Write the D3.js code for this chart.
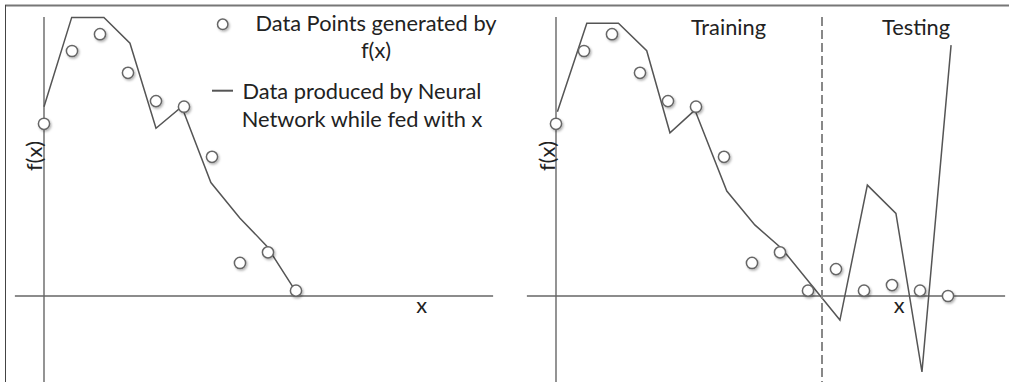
<!DOCTYPE html>
<html>
<head>
<meta charset="utf-8">
<script src="https://cdn.jsdelivr.net/npm/d3@7"></script>
<style>
  body { margin: 0; background: #fff; }
  svg { display: block; }
  text { font-family: Lato, "Open Sans", sans-serif; fill: #222; }
</style>
</head>
<body>
<div id="chart"></div>
<script>
// =====================================================================
// Data (x = sample index, y = f(x) in arbitrary units, 0 = x axis)
// =====================================================================
const pointX = [0, 1, 2, 3, 4, 5, 6, 7, 8, 9, 10, 11, 12, 13, 14];
const pointY = [0.615, 0.875, 0.935, 0.797, 0.696, 0.676, 0.497, 0.118, 0.156, 0.019,
                0.096, 0.019, 0.039, 0.019, 0.0];

// network output, left panel (training points only)
const fitLeftX = [0, 0.99, 2.14, 3.07, 4.0, 4.92, 5.96, 7.0, 7.95, 9.03];
const fitLeftY = [0.676, 0.995, 0.995, 0.903, 0.599, 0.676, 0.405, 0.278, 0.179, 0.010];

// network output, right panel (training + testing)
const fitRightX = [0.05, 1.1, 2.23, 3.24, 4.07, 4.96, 6.1, 7.1, 8.06, 10.14, 11.12, 12.14, 13.07, 14.11];
const fitRightY = [0.658, 0.974, 0.974, 0.876, 0.583, 0.664, 0.375, 0.254, 0.170,
                   -0.086, 0.396, 0.295, -0.271, 0.896];

const trainCount = 10;     // left panel shows the first 10 points
const splitAt = 9.5;       // training / testing boundary

const legendPointLines = ["Data Points generated by", "f(x)"];
const legendLineLines = ["Data produced by Neural", "Network while fed with x"];
const regionLabels = [{ text: "Training", at: 6.16 }, { text: "Testing", at: 12.86 }];

// =====================================================================
const width = 1009;
const height = 382;
const fontSize = "21.8px";

const x = d3.scaleLinear().domain([0, 14]).range([44, 44 + 28 * 14]);
const y = d3.scaleLinear().domain([0, 1]).range([296, 16]);

const svg = d3.select("#chart")
  .append("svg")
  .attr("width", width)
  .attr("height", height);

// soft shadow under the circles
svg.append("defs")
  .append("filter")
  .attr("id", "shadow")
  .attr("x", "-50%").attr("y", "-50%")
  .attr("width", "200%").attr("height", "200%")
  .append("feDropShadow")
  .attr("dx", 1.2).attr("dy", 1.5)
  .attr("stdDeviation", 1)
  .attr("flood-color", "#000")
  .attr("flood-opacity", 0.3);

// --- Frame ---
svg.append("line")
  .attr("x1", 5).attr("x2", width).attr("y1", 5.5).attr("y2", 5.5)
  .attr("stroke", "#777").attr("stroke-width", 2);
svg.append("line")
  .attr("x1", 5.5).attr("x2", 5.5).attr("y1", 5).attr("y2", height)
  .attr("stroke", "#444").attr("stroke-width", 1);

const line = d3.line().x(d => x(d[0])).y(d => y(d[1]));

function drawPanel(g, opts) {
  // axes
  g.append("line")
    .attr("x1", x(0)).attr("x2", x(0))
    .attr("y1", y(0.996)).attr("y2", height)
    .attr("stroke", "#888").attr("stroke-width", 1.8);
  g.append("line")
    .attr("x1", x(-1.04)).attr("x2", x(16.04))
    .attr("y1", y(0)).attr("y2", y(0))
    .attr("stroke", "#666").attr("stroke-width", 1.4);

  g.append("text")
    .attr("transform", `translate(${opts.yLabelX},156) rotate(-90)`)
    .attr("text-anchor", "middle")
    .attr("dy", "0.35em")
    .style("font-size", fontSize)
    .text("f(x)");

  g.append("text")
    .attr("x", x(opts.xLabelAt)).attr("y", 313)
    .attr("text-anchor", "middle")
    .style("font-size", fontSize)
    .text("x");

  // network output
  g.append("path")
    .datum(d3.zip(opts.fitX, opts.fitY))
    .attr("d", line)
    .attr("fill", "none")
    .attr("stroke", "#555")
    .attr("stroke-width", 1.5)
    .attr("stroke-linejoin", "miter");

  // data points
  g.append("g")
    .selectAll("circle")
    .data(d3.zip(pointX, pointY).slice(0, opts.nPoints))
    .join("circle")
    .attr("cx", d => x(d[0]))
    .attr("cy", d => y(d[1]))
    .attr("r", 5.6)
    .attr("fill", "#fff")
    .attr("stroke", "#666")
    .attr("stroke-width", 1.5)
    .attr("filter", "url(#shadow)");
}

// --- Left panel ---
const left = svg.append("g");
drawPanel(left, {
  fitX: fitLeftX, fitY: fitLeftY, nPoints: trainCount,
  yLabelX: 34, xLabelAt: 13.49
});

// legend
left.append("circle")
  .attr("cx", 222.7).attr("cy", 24.3).attr("r", 5.2)
  .attr("fill", "#fff").attr("stroke", "#666").attr("stroke-width", 1.5)
  .attr("filter", "url(#shadow)");
left.append("line")
  .attr("x1", 212).attr("x2", 233).attr("y1", 90.7).attr("y2", 90.7)
  .attr("stroke", "#555").attr("stroke-width", 2);

left.selectAll("text.leg1")
  .data(legendPointLines)
  .join("text")
  .attr("class", "leg1")
  .attr("x", 376).attr("y", (d, i) => 30.5 + i * 27)
  .attr("text-anchor", "middle")
  .style("font-size", fontSize)
  .text(d => d);

left.selectAll("text.leg2")
  .data(legendLineLines)
  .join("text")
  .attr("class", "leg2")
  .attr("x", 362).attr("y", (d, i) => 99.3 + i * 28)
  .attr("text-anchor", "middle")
  .style("font-size", fontSize)
  .text(d => d);

// --- Right panel ---
const right = svg.append("g").attr("transform", "translate(512,0)");
drawPanel(right, {
  fitX: fitRightX, fitY: fitRightY, nPoints: pointX.length,
  yLabelX: 35, xLabelAt: 12.26
});

right.append("line")
  .attr("x1", x(splitAt)).attr("x2", x(splitAt))
  .attr("y1", 17).attr("y2", height)
  .attr("stroke", "#888").attr("stroke-width", 2)
  .attr("stroke-dasharray", "9,4");

right.selectAll("text.region")
  .data(regionLabels)
  .join("text")
  .attr("class", "region")
  .attr("x", d => x(d.at)).attr("y", 35)
  .attr("text-anchor", "middle")
  .style("font-size", fontSize)
  .text(d => d.text);
</script>
</body>
</html>
